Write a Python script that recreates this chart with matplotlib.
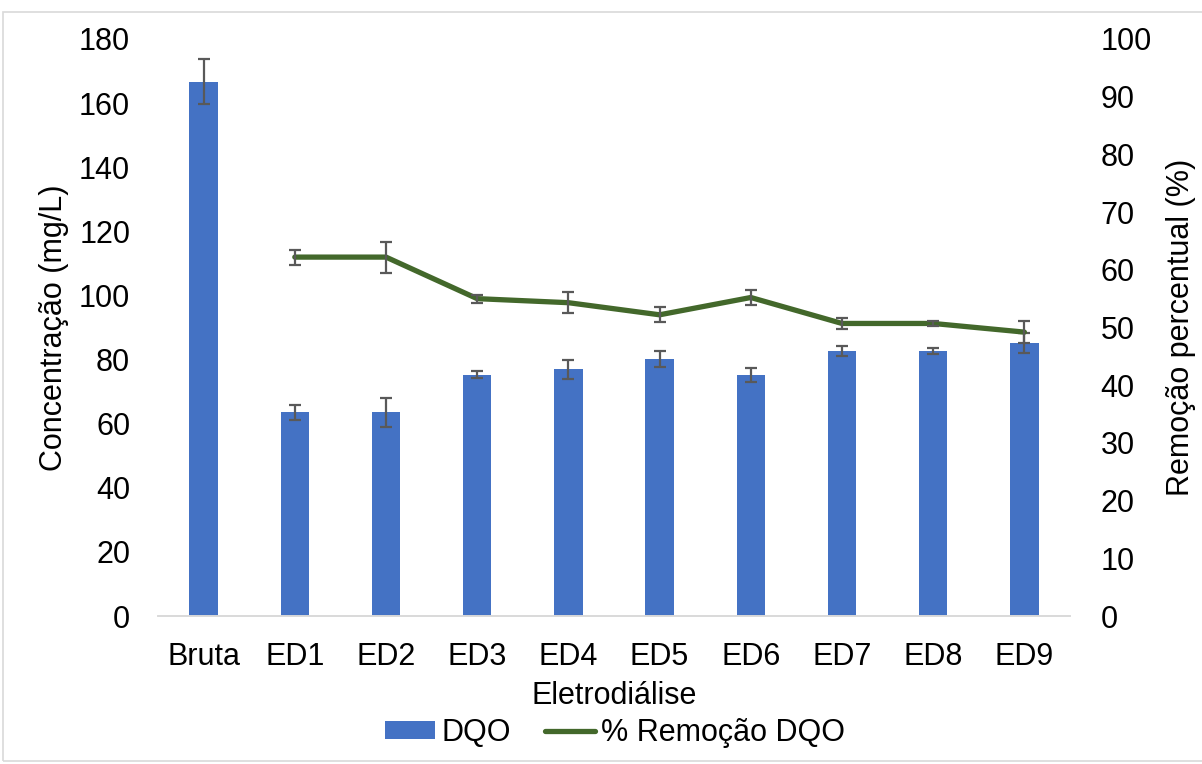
import matplotlib
matplotlib.use("Agg")
import matplotlib.pyplot as plt
from matplotlib.patches import Rectangle
from matplotlib.lines import Line2D
from matplotlib.patches import Patch

plt.rcParams['font.family'] = ['Liberation Sans', 'DejaVu Sans']

categories = ["Bruta", "ED1", "ED2", "ED3", "ED4", "ED5", "ED6", "ED7", "ED8", "ED9"]
dqo = [166.7, 63.5, 63.5, 75.3, 76.9, 80.2, 75.3, 82.6, 82.6, 85.2]
dqo_err = [7.1, 2.4, 4.5, 1.0, 3.1, 2.4, 2.2, 1.6, 1.0, 3.2]

removal_labels = ["ED1", "ED2", "ED3", "ED4", "ED5", "ED6", "ED7", "ED8", "ED9"]
removal = [62.2, 62.2, 55.0, 54.3, 52.2, 55.2, 50.7, 50.7, 49.2]
removal_err = [1.3, 2.7, 0.7, 1.8, 1.3, 1.3, 0.9, 0.5, 1.9]

BAR_COLOR = "#4472C4"
LINE_COLOR = "#43682B"
ERR_COLOR = "#595959"
GRID_GRAY = "#D9D9D9"
FS = 22

fig = plt.figure(figsize=(12.02, 7.64), dpi=100)
W, H = 1202, 764
ax = fig.add_axes([158 / W, 1 - 616 / H, (1070 - 158) / W, (616 - 39) / H])
ax2 = ax.twinx()

x = list(range(len(categories)))
ax.bar(x, dqo, width=0.31, color=BAR_COLOR, zorder=2)
ax.errorbar(x, dqo, yerr=dqo_err, fmt="none", ecolor=ERR_COLOR,
            elinewidth=1.6, capsize=4.5, capthick=1.6, zorder=3)

xr = [categories.index(c) for c in removal_labels]
ax2.plot(xr, removal, color=LINE_COLOR, lw=3.8, solid_capstyle="round",
         solid_joinstyle="round", zorder=2)
ax2.errorbar(xr, removal, yerr=removal_err, fmt="none", ecolor=ERR_COLOR,
             elinewidth=1.6, capsize=4.5, capthick=1.6, zorder=3)

ax.set_xlim(-0.5, len(categories) - 0.5)
ax.set_ylim(0, 180)
ax.set_yticks(range(0, 181, 20))
ax2.set_ylim(0, 100)
ax2.set_yticks(range(0, 101, 10))
ax.set_xticks(x)
ax.set_xticklabels(categories)

for a in (ax, ax2):
    for side in ("top", "left", "right"):
        a.spines[side].set_visible(False)
    a.spines["bottom"].set_color(GRID_GRAY)
    a.spines["bottom"].set_linewidth(1.2)
    a.tick_params(length=0, labelsize=FS)
ax.tick_params(axis="y", pad=20)
ax2.tick_params(axis="y", pad=22)
ax.tick_params(axis="x", pad=19)

ax.set_ylabel("Concentração (mg/L)", fontsize=FS)
ax.yaxis.set_label_coords((69 - 158) / 912, 0.5)
ax2.set_ylabel("Remoção percentual (%)", fontsize=FS)
ax2.yaxis.set_label_coords((1166 - 158) / 912, 0.5)
ax.set_xlabel("Eletrodiálise", fontsize=FS, labelpad=6)

handles = [Patch(facecolor=BAR_COLOR, edgecolor="none"),
           Line2D([0], [0], color=LINE_COLOR, lw=3.8, solid_capstyle="round")]
fig.legend(handles, ["DQO", "% Remoção DQO"], loc="center",
           bbox_to_anchor=(615 / W, 1 - 733 / H), ncol=2, frameon=False,
           fontsize=FS, handlelength=1.65, handleheight=0.55, handletextpad=0.2,
           columnspacing=1.1, borderpad=0)

fig.patches.append(Rectangle((3 / W, 3 / H), 1.2, 1 - 15 / H, transform=fig.transFigure,
                             fill=False, edgecolor=GRID_GRAY, lw=1.2))

fig.savefig("out.png", dpi=100)
